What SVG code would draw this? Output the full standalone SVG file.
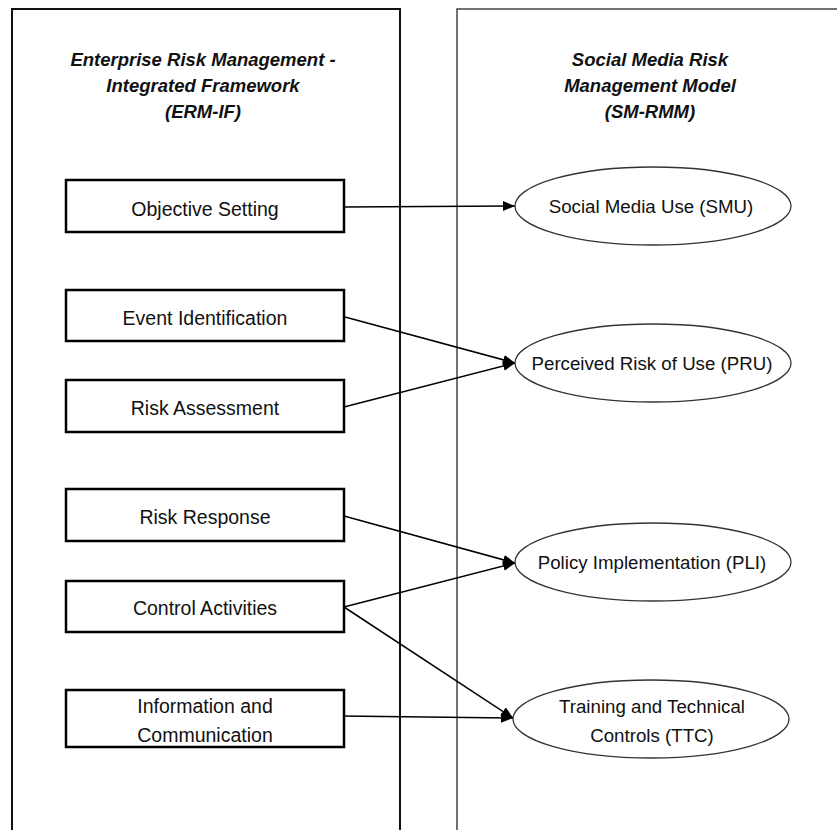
<svg xmlns="http://www.w3.org/2000/svg" width="837" height="830" viewBox="0 0 837 830">
<style>
.t{font-family:"Liberation Sans",Arial,sans-serif;font-size:19.5px;fill:#111;text-anchor:middle}
.e{font-size:18.7px}
.h{font-family:"Liberation Sans",Arial,sans-serif;font-size:18.5px;font-weight:bold;font-style:italic;fill:#111;text-anchor:middle}
.box{fill:#fff;stroke:#000;stroke-width:2.5}
.ell{fill:#fff;stroke:#333;stroke-width:1.3}
.c line{stroke:#000;stroke-width:1.5;marker-end:url(#ah)}
</style>
<defs>
<marker id="ah" markerUnits="userSpaceOnUse" markerWidth="13" markerHeight="11" refX="12" refY="5" orient="auto">
<path d="M0,0 L12,5 L0,10 z" fill="#000"/>
</marker>
</defs>
<rect width="837" height="830" fill="#fff"/>
<g id="panel-erm">
<path d="M12,832 V9 H400 V832" fill="none" stroke="#111" stroke-width="2"/>
<text class="h" x="203" y="66">Enterprise Risk Management -</text>
<text class="h" x="203" y="92">Integrated Framework</text>
<text class="h" x="203" y="118">(ERM-IF)</text>
</g>
<g id="panel-smrmm">
<path d="M457,832 V9 H840" fill="none" stroke="#444" stroke-width="1.5"/>
<text class="h" x="650" y="66">Social Media Risk</text>
<text class="h" x="650" y="92">Management  Model</text>
<text class="h" x="650" y="118">(SM-RMM)</text>
</g>
<g class="c" id="connectors">
<line x1="344" y1="207" x2="515" y2="206"/>
<line x1="345" y1="317" x2="515" y2="363"/>
<line x1="344" y1="407" x2="515" y2="363"/>
<line x1="344" y1="516" x2="515" y2="563"/>
<line x1="344" y1="607" x2="515" y2="563"/>
<line x1="344" y1="607" x2="513" y2="718"/>
<line x1="341" y1="716" x2="513" y2="718"/>
</g>
<g id="objective-setting"><rect class="box" x="66" y="180" width="278" height="52"/><text class="t" x="205" y="216">Objective Setting</text></g>
<g id="event-identification"><rect class="box" x="66" y="290" width="278" height="51"/><text class="t" x="205" y="325">Event Identification</text></g>
<g id="risk-assessment"><rect class="box" x="66" y="380" width="278" height="52"/><text class="t" x="205" y="415">Risk Assessment</text></g>
<g id="risk-response"><rect class="box" x="66" y="489" width="278" height="52"/><text class="t" x="205" y="524">Risk Response</text></g>
<g id="control-activities"><rect class="box" x="66" y="581" width="278" height="51"/><text class="t" x="205" y="615">Control Activities</text></g>
<g id="information-communication"><rect class="box" x="66" y="690" width="278" height="57"/><text class="t" x="205" y="713">Information and</text><text class="t" x="205" y="742">Communication</text></g>
<g id="smu"><ellipse class="ell" cx="653" cy="206" rx="138" ry="39"/><text class="t e" x="651" y="213">Social Media Use (SMU)</text></g>
<g id="pru"><ellipse class="ell" cx="653" cy="363" rx="138" ry="39"/><text class="t e" x="652" y="370">Perceived Risk of Use (PRU)</text></g>
<g id="pli"><ellipse class="ell" cx="653" cy="562" rx="138" ry="39"/><text class="t e" x="652" y="569">Policy Implementation (PLI)</text></g>
<g id="ttc"><ellipse class="ell" cx="651" cy="719" rx="138" ry="39"/><text class="t e" x="652" y="713">Training and Technical</text><text class="t e" x="652" y="742">Controls (TTC)</text></g>
</svg>
